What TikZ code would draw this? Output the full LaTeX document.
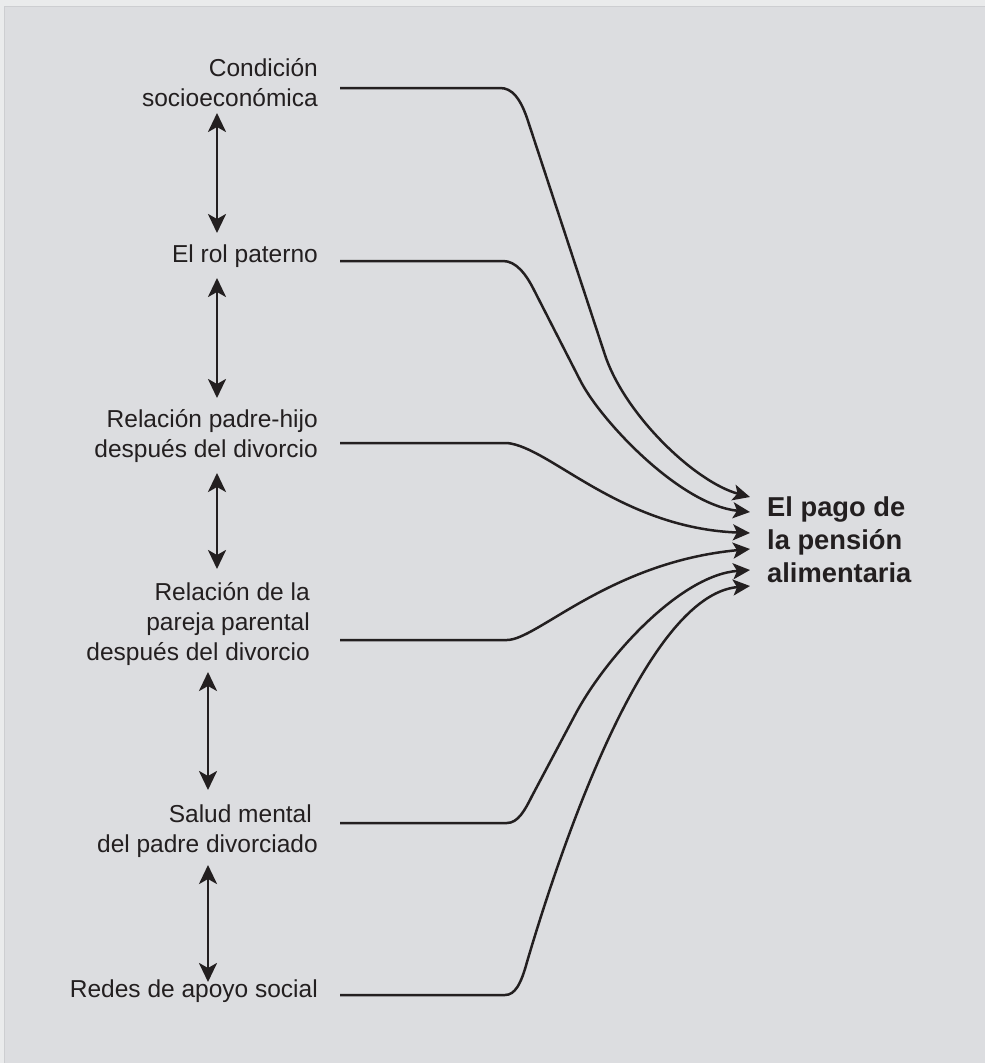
\documentclass[tikz,border=0pt]{standalone}
\usepackage{fontspec}
\setmainfont{Liberation Sans}
\usetikzlibrary{arrows.meta}

\definecolor{panel}{RGB}{220,221,224}
\definecolor{rim}{RGB}{205,206,209}
\definecolor{ink}{RGB}{35,31,32}

\tikzset{
  lbl/.style={anchor=east, align=right, inner sep=0pt,
    font=\fontsize{24.5}{30}\selectfont, text=ink},
  goal/.style={anchor=west, align=left, inner sep=0pt,
    font=\bfseries\fontsize{27.3}{33}\selectfont, text=ink},
  link/.style={draw=ink, line width=2.5pt,
    -{Stealth[length=17pt,width=16pt,inset=4pt]}},
  dbl/.style={draw=ink, line width=2.8pt,
    {Stealth[length=19pt,width=18pt,inset=5pt]}-{Stealth[length=19pt,width=18pt,inset=5pt]}}
}

\begin{document}
\begin{tikzpicture}[x=1pt,y=-1pt]
  \useasboundingbox (0,0) rectangle (985,1063);
  \clip (0,0) rectangle (985,1063);
  % panel
  \fill[white!40!panel] (0,0) rectangle (985,1063);
  \filldraw[fill=panel, draw=rim, line width=1.2pt] (4.5,6.5) rectangle (995,1075);

  % factors
  \node[lbl] (cond)  at (318,83)    {Condición\\socioeconómica};
  \node[lbl] (rol)   at (318,256.5) {El rol paterno};
  \node[lbl] (relph) at (318,436)   {Relación padre-hijo\\después del divorcio};
  \node[lbl] (relpp) at (310,624.5) {Relación de la\\pareja parental\hspace*{7pt}\\después del divorcio};
  \node[lbl] (salud) at (318,831.5) {Salud mental\hspace*{6pt}\\del padre divorciado};
  \node[lbl] (redes) at (318,991.5) {Redes de apoyo social};

  % outcome
  \node[goal] (pago) at (767,540) {El pago de\\la pensión\\alimentaria};

  % ends of the links
  \coordinate (s1) at (340,88);  \coordinate (e1) at (750,497);
  \coordinate (s2) at (340,261); \coordinate (e2) at (750,512);
  \coordinate (s3) at (340,443); \coordinate (e3) at (750,533);
  \coordinate (s4) at (340,640); \coordinate (e4) at (750,549);
  \coordinate (s5) at (340,823); \coordinate (e5) at (750,570);
  \coordinate (s6) at (340,995); \coordinate (e6) at (750,586);

  \draw[link] (s1) -- (500,88) .. controls (512,88) and (520,98) .. (527,118)
    -- (605,355) .. controls (625,415) and (695,482) .. (e1);
  \draw[link] (s2) -- (503,261) .. controls (516,261) and (526,274) .. (534,290)
    -- (580,380) .. controls (600,420) and (680,505) .. (e2);
  \draw[link] (s3) -- (507,443) .. controls (550,447) and (620,528) .. (e3);
  \draw[link] (s4) -- (507,640) .. controls (537,640) and (610,562) .. (e4);
  \draw[link] (s5) -- (507,823) .. controls (518,823) and (525,810) .. (532,796)
    -- (575,715) .. controls (605,658) and (680,575) .. (e5);
  \draw[link] (s6) -- (505,995) .. controls (515,995) and (521,984) .. (527,962)
    .. controls (560,850) and (645,595) .. (e6);

  % mutual influences
  \coordinate (u1) at (217,113); \coordinate (d1) at (217,233);
  \coordinate (u2) at (217,278); \coordinate (d2) at (217,398);
  \coordinate (u3) at (217,473); \coordinate (d3) at (217,569);
  \coordinate (u4) at (208,672); \coordinate (d4) at (208,790);
  \coordinate (u5) at (208,865); \coordinate (d5) at (208,982);
  \foreach \i in {1,...,5}
    \draw[dbl] (u\i) -- (d\i);
\end{tikzpicture}
\end{document}
